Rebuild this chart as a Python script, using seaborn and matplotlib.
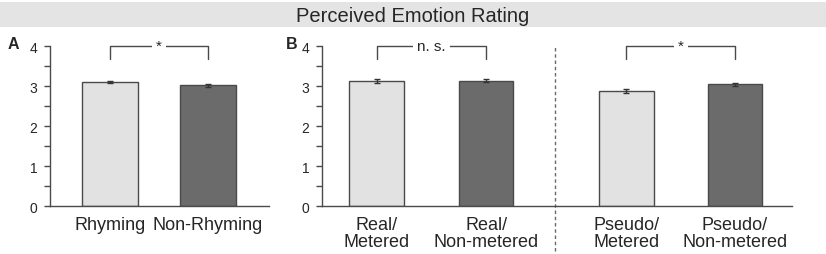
import matplotlib
matplotlib.use("Agg")
import matplotlib.pyplot as plt
import seaborn as sns
import pandas as pd
from matplotlib.patches import Rectangle
from matplotlib.ticker import MultipleLocator

# --- data ---
a_labels = ["Rhyming", "Non-Rhyming"]
a_means = [3.10, 3.02]
a_errs = [0.03, 0.03]
a_kind = ["light", "dark"]

b_labels = ["Real/\nMetered", "Real/\nNon-metered", "Pseudo/\nMetered", "Pseudo/\nNon-metered"]
b_means = [3.14, 3.14, 2.89, 3.05]
b_errs = [0.05, 0.04, 0.05, 0.04]
b_kind = ["light", "dark", "light", "dark"]

# layout positions of the four B bars (gap between real and pseudo groups)
b_pos = [0.0, 1.0, 2.28, 3.27]

pal = {"light": "#e2e2e2", "dark": "#6b6b6b"}
EDGE = "#4a4a4a"

sns.set_style("white")
plt.rcParams["font.family"] = ["Liberation Sans", "DejaVu Sans"]

fig = plt.figure(figsize=(8.26, 2.55), dpi=100)

# grey title band
fig.patches.append(Rectangle((0, 0.890), 1, 0.098, transform=fig.transFigure,
                             facecolor="#e4e4e4", edgecolor="none", zorder=0))
fig.text(0.5, 0.936, "Perceived Emotion Rating", ha="center", va="center", fontsize=14.5)

axA = fig.add_axes([0.0605, 0.188, 0.265, 0.627])
axB = fig.add_axes([0.3898, 0.188, 0.569, 0.627])


def style_axis(ax):
    sns.despine(ax=ax)
    for s in ["left", "bottom"]:
        ax.spines[s].set_color(EDGE)
        ax.spines[s].set_linewidth(1.0)
    ax.set_ylim(0, 4)
    ax.yaxis.set_major_locator(MultipleLocator(1))
    ax.yaxis.set_minor_locator(MultipleLocator(0.5))
    ax.tick_params(axis="y", which="both", direction="out", length=4.5, width=1.0,
                   color=EDGE, labelsize=10, pad=4.5, left=True)
    ax.tick_params(axis="x", length=0, labelsize=13, pad=7)
    ax.set_xlabel("")
    ax.set_ylabel("")


def bracket(ax, x1, x2, label, fs):
    y_top, y_low = 4.0, 3.67
    ax.plot([x1, x1, x2, x2], [y_low, y_top, y_top, y_low], color=EDGE, lw=1.0,
            clip_on=False, zorder=3)
    ax.text((x1 + x2) / 2, y_top, label, ha="center", va="center", fontsize=fs,
            zorder=4, bbox=dict(facecolor="white", edgecolor="none", pad=3))


# --- panel A ---
dfA = pd.DataFrame({"cond": a_labels, "mean": a_means, "kind": a_kind})
sns.barplot(data=dfA, x="cond", y="mean", hue="kind", palette=pal, dodge=False,
            width=0.57, errorbar=None, legend=False, edgecolor=EDGE, linewidth=1.0, ax=axA)
axA.errorbar(range(len(a_means)), a_means, yerr=a_errs, fmt="none", ecolor="#333333",
             elinewidth=1.0, capsize=2.5, capthick=1.0, zorder=5)
style_axis(axA)
axA.set_xlim(-0.612, 1.622)
bracket(axA, 0, 1, "*", 11)
fig.text(0.009, 0.827, "A", fontsize=11.5, fontweight="bold", va="center")

# --- panel B ---
dfB = pd.DataFrame({"pos": b_pos, "mean": b_means, "kind": b_kind})
sns.barplot(data=dfB, x="pos", y="mean", hue="kind", palette=pal, dodge=False,
            native_scale=True, width=0.5, errorbar=None, legend=False,
            edgecolor=EDGE, linewidth=1.0, ax=axB)
axB.errorbar(b_pos, b_means, yerr=b_errs, fmt="none", ecolor="#333333",
             elinewidth=1.0, capsize=2.5, capthick=1.0, zorder=5)
style_axis(axB)
axB.set_xticks(b_pos)
axB.set_xticklabels(b_labels, linespacing=1.05)
axB.set_xlim(-0.498, 3.79)
axB.axvline(1.63, ymin=-0.28, ymax=1.0, color="#6a6a6a", lw=1.0, ls=(0, (2.5, 2)),
            clip_on=False)
bracket(axB, b_pos[0], b_pos[1], "n. s.", 11)
bracket(axB, b_pos[2], b_pos[3], "*", 11)
fig.text(0.346, 0.827, "B", fontsize=11.5, fontweight="bold", va="center")

fig.savefig("out.png", dpi=100)
